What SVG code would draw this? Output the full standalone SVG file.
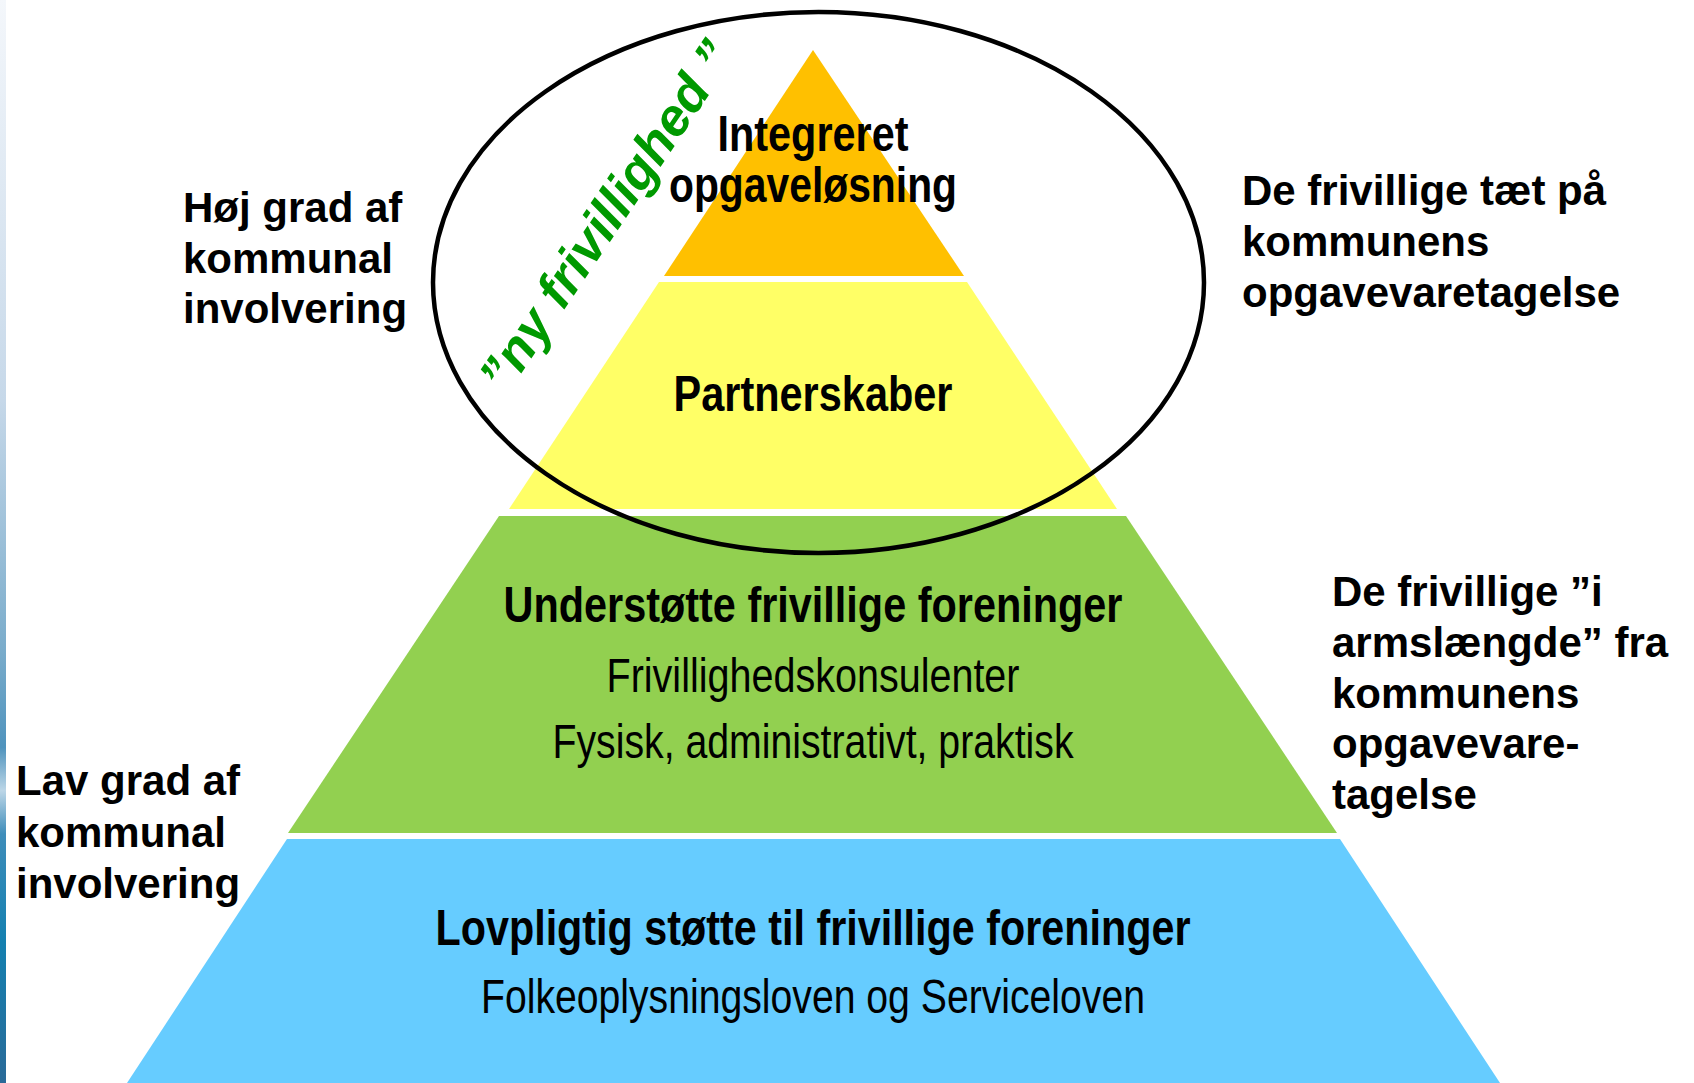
<svg xmlns="http://www.w3.org/2000/svg" width="1694" height="1083" viewBox="0 0 1694 1083">
  <defs>
    <linearGradient id="edge" x1="0" y1="0" x2="0" y2="1">
      <stop offset="0" stop-color="#f4f7fb"/>
      <stop offset="0.37" stop-color="#c6d8e9"/>
      <stop offset="0.6" stop-color="#7aaccb"/>
      <stop offset="0.69" stop-color="#4f93bd"/>
      <stop offset="0.73" stop-color="#bcd6e7"/>
      <stop offset="0.77" stop-color="#3f8dba"/>
      <stop offset="0.87" stop-color="#1480b0"/>
      <stop offset="1" stop-color="#2a6a98"/>
    </linearGradient>
    <style>
      .side { font-family: "Liberation Sans", Arial, sans-serif; font-weight: bold; font-size: 42px; fill: #000; }
      .head { font-family: "Liberation Sans Narrow", "Arial Narrow", "Liberation Sans", sans-serif; font-weight: bold; font-size: 50px; fill: #000; text-anchor: middle; }
      .sub { font-family: "Liberation Sans Narrow", "Arial Narrow", "Liberation Sans", sans-serif; font-weight: normal; font-size: 48px; fill: #000; text-anchor: middle; }
      .ny { font-family: "Liberation Sans", Arial, sans-serif; font-weight: bold; font-style: italic; font-size: 52px; fill: #009900; }
    </style>
  </defs>
  <rect x="0" y="0" width="1694" height="1083" fill="#ffffff"/>
  <rect x="0" y="0" width="6" height="1083" fill="url(#edge)"/>

  <g id="level-integreret">
    <polygon points="813,50 964,276 664,276" fill="#FFC000"/>
    <text class="head" x="813" y="151" textLength="191" lengthAdjust="spacingAndGlyphs">Integreret</text>
    <text class="head" x="813" y="202" textLength="288" lengthAdjust="spacingAndGlyphs">opgaveløsning</text>
  </g>
  <g id="level-partnerskaber">
    <polygon points="659,282 967,282 1117,509 509,509" fill="#FFFF66"/>
    <text class="head" x="813" y="411" textLength="279" lengthAdjust="spacingAndGlyphs">Partnerskaber</text>
  </g>
  <g id="level-understoette">
    <polygon points="499,516 1126,516 1337,833 288,833" fill="#92D050"/>
    <text class="head" x="813" y="622" textLength="619" lengthAdjust="spacingAndGlyphs">Understøtte frivillige foreninger</text>
    <text class="sub" x="813" y="692" textLength="413" lengthAdjust="spacingAndGlyphs">Frivillighedskonsulenter</text>
    <text class="sub" x="813" y="758" textLength="521" lengthAdjust="spacingAndGlyphs">Fysisk, administrativt, praktisk</text>
  </g>
  <g id="level-lovpligtig">
    <polygon points="287,839 1340,839 1500,1083 127,1083" fill="#66CCFF"/>
    <text class="head" x="813" y="945" textLength="755" lengthAdjust="spacingAndGlyphs">Lovpligtig støtte til frivillige foreninger</text>
    <text class="sub" x="813" y="1013" textLength="664" lengthAdjust="spacingAndGlyphs">Folkeoplysningsloven og Serviceloven</text>
  </g>

  <g id="ny-frivillighed">
    <ellipse cx="818.5" cy="282.5" rx="385.5" ry="270.5" fill="none" stroke="#000" stroke-width="4.5"/>
    <text class="ny" transform="translate(506,396) rotate(-56)" x="0" y="0" textLength="410" lengthAdjust="spacingAndGlyphs">”ny frivillighed ”</text>
  </g>

  <g id="label-hoej">
    <text class="side" x="183" y="222">Høj grad af</text>
    <text class="side" x="183" y="273">kommunal</text>
    <text class="side" x="183" y="323">involvering</text>
  </g>
  <g id="label-taet">
    <text class="side" x="1242" y="205">De frivillige tæt på</text>
    <text class="side" x="1242" y="256">kommunens</text>
    <text class="side" x="1242" y="307">opgavevaretagelse</text>
  </g>
  <g id="label-arm">
    <text class="side" x="1332" y="606">De frivillige ”i</text>
    <text class="side" x="1332" y="657">armslængde” fra</text>
    <text class="side" x="1332" y="708">kommunens</text>
    <text class="side" x="1332" y="758">opgavevare-</text>
    <text class="side" x="1332" y="809">tagelse</text>
  </g>
  <g id="label-lav">
    <text class="side" x="16" y="795">Lav grad af</text>
    <text class="side" x="16" y="847">kommunal</text>
    <text class="side" x="16" y="898">involvering</text>
  </g>
  <g id="connectors"/>
</svg>
